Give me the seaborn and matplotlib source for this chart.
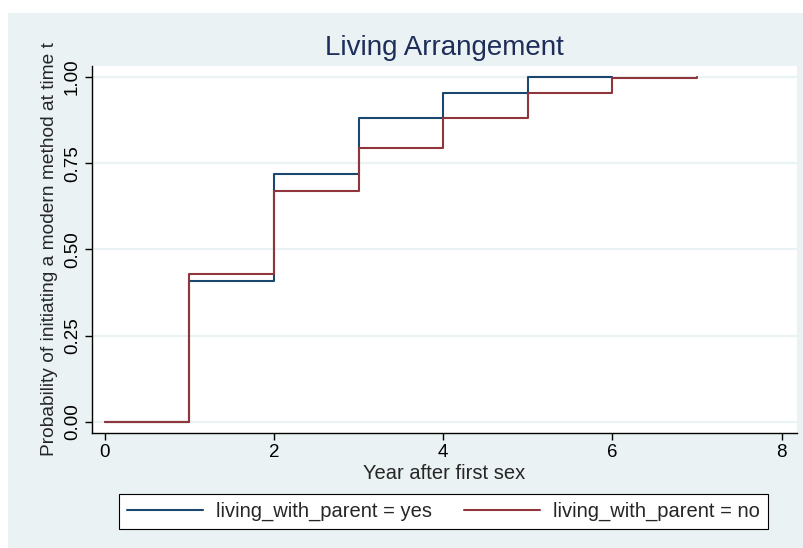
import seaborn as sns
import matplotlib.pyplot as plt
import pandas as pd
from matplotlib.patches import Rectangle

# Kaplan-Meier style failure curves
years_yes = [0, 1, 2, 3, 4, 5, 6]
prob_yes = [0.0, 0.41, 0.72, 0.88, 0.955, 1.0, 1.0]
years_no = [0, 1, 2, 3, 4, 5, 6, 7]
prob_no = [0.0, 0.43, 0.67, 0.795, 0.88, 0.955, 0.997, 1.0]
labels = ["living_with_parent = yes", "living_with_parent = no"]
yticks = [0.0, 0.25, 0.50, 0.75, 1.00]
xticks = [0, 2, 4, 6, 8]

df = pd.concat([
    pd.DataFrame({"year": years_yes, "prob": prob_yes, "group": labels[0]}),
    pd.DataFrame({"year": years_no, "prob": prob_no, "group": labels[1]}),
])

sns.set_style("white")
plt.rcParams["font.family"] = ["Liberation Sans", "DejaVu Sans"]

fig = plt.figure(figsize=(8.04, 5.48), dpi=100)
fig.patch.set_facecolor("white")
fig.patches.append(Rectangle((8 / 804, 0), 1, 1 - 13 / 548, transform=fig.transFigure,
                             facecolor="#eaf2f3", edgecolor="none", zorder=-5))

ax = fig.add_axes([0.1144, 0.2099, 0.8769, 0.6697])
ax.set_zorder(2)
ax.set_facecolor("white")
for y in yticks:
    ax.axhline(y, color="#eaf2f3", lw=1.6, zorder=0)

sns.lineplot(data=df, x="year", y="prob", hue="group", drawstyle="steps-post",
             palette=["#1a476f", "#90353b"], linewidth=1.5, ax=ax, legend=False,
             estimator=None, sort=True)

ax.set_xlim(-0.15, 8.18)
ax.set_ylim(-0.032, 1.032)
ax.set_xticks(xticks)
ax.set_yticks(yticks)
ax.set_yticklabels([f"{v:.2f}" for v in yticks], rotation=90, va="center")
ax.tick_params(axis="both", direction="out", length=5, width=1, color="black",
               labelsize=13.5, labelcolor="black", left=True, bottom=True, pad=3)
for s in ["top", "right"]:
    ax.spines[s].set_visible(False)
for s in ["left", "bottom"]:
    ax.spines[s].set_color("black")
    ax.spines[s].set_linewidth(1)

ax.set_title("Living Arrangement", fontsize=20, color="#1e2d5a", pad=8)
ax.set_xlabel("Year after first sex", fontsize=14.5, labelpad=2)
ax.set_ylabel("Probability of initiating a modern method at time t", fontsize=13.8, labelpad=4)

handles = [plt.Line2D([], [], color=c, lw=1.5) for c in ["#1a476f", "#90353b"]]
leg = fig.legend(handles, labels, ncol=2, loc="center", bbox_to_anchor=(443.5 / 804, 1 - 511.5 / 548),
                 frameon=True, fancybox=False, edgecolor="black", facecolor="white", framealpha=1,
                 fontsize=14.5, handlelength=3.8, columnspacing=1.55, borderpad=0.4,
                 handletextpad=0.65)
leg.get_frame().set_linewidth(0.8)

fig.savefig("out.png", dpi=100)
